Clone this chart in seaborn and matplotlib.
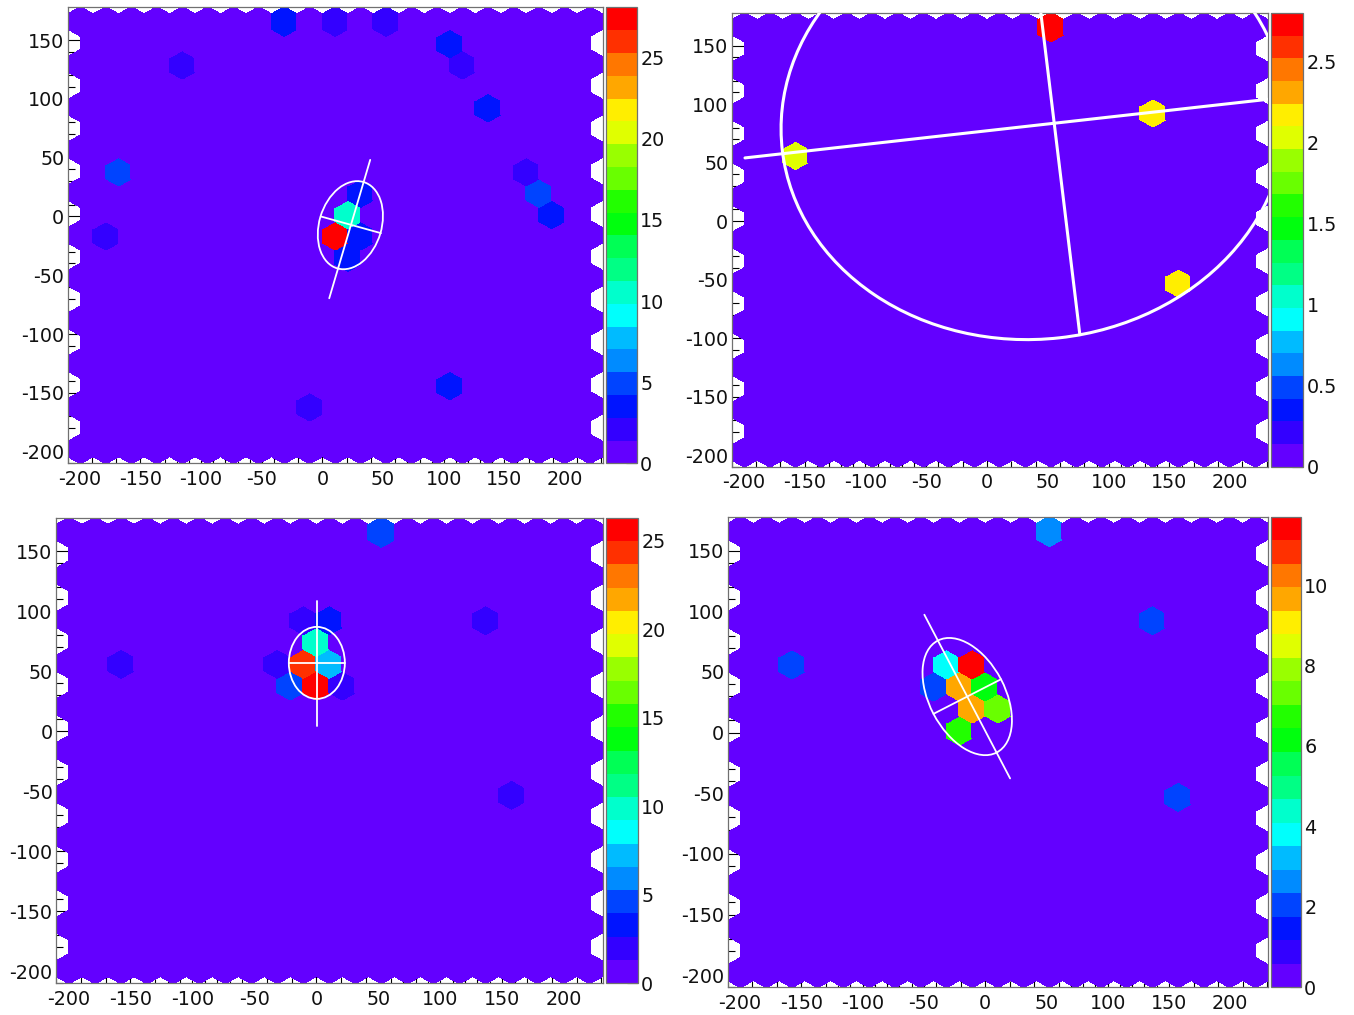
import colorsys
import numpy as np
import matplotlib
matplotlib.use("Agg")
import matplotlib.pyplot as plt
import seaborn as sns
from matplotlib.collections import PolyCollection
from matplotlib.patches import Ellipse
from matplotlib.colors import Normalize, ListedColormap
from matplotlib.cm import ScalarMappable
from matplotlib.ticker import MultipleLocator, FixedLocator, FuncFormatter

sns.set_theme(style="ticks")
plt.rcParams["font.family"] = ["DejaVu Sans"]
plt.rcParams["axes.unicode_minus"] = False

# ---------------- camera layout: 21 x 21 honeycomb of pointy-top pixels ----------------
PIXEL_PITCH = 21.0      # flat-to-flat size (mm)
N_ROWS = 21
N_COLS = 21
GRID_X0 = -210.0
GRID_Y0 = -210.0

# ---------------- event 1 (top left) ----------------
evt1_rows = [20, 20, 20, 19, 18, 18, 16, 13, 13, 12, 11, 10, 3, 2, 12, 11, 10, 10, 9]
evt1_cols = [8, 10, 12, 14, 15, 4, 16, 1, 17, 18, 18, 1, 14, 9, 11, 10, 10, 11, 10]
evt1_vals = [3.5, 2.1, 2.1, 3.5, 2.1, 2.1, 3.5, 4.9, 2.1, 4.9, 3.5, 2.1, 3.5, 2.1,
             3.5, 10.5, 28.1, 3.5, 3.5]
evt1_center = (23.0, -7.4)
evt1_length = 38.3
evt1_width = 25.7
evt1_psi = 74.0
evt1_axis_origin = (23.5, -7.1)
evt1_major_span = (-65.0, 57.5)
evt1_minor_span = (-25.7, 25.7)
evt1_zticks = [0, 5, 10, 15, 20, 25]

# ---------------- event 2 (top right) ----------------
evt2_rows = [20, 16, 14, 8]
evt2_cols = [12, 16, 2, 17]
evt2_vals = [2.8, 2.17, 2.03, 2.17]
evt2_center = (38.3, 84.0)
evt2_length = 208.0
evt2_width = 185.0
evt2_psi = 6.65
evt2_axis_origin = (55.2, 83.7)
evt2_major_span = (-256.0, 320.0)
evt2_minor_span = (-182.0, 200.0)
evt2_zticks = [0, 0.5, 1, 1.5, 2, 2.5]

# ---------------- event 3 (bottom left) ----------------
evt3_rows = [20, 16, 16, 16, 14, 14, 14, 14, 15, 13, 13, 13, 8]
evt3_cols = [12, 9, 10, 16, 2, 8, 9, 10, 9, 8, 9, 10, 17]
evt3_vals = [4.6, 2.0, 3.3, 2.0, 2.0, 2.0, 24.3, 7.2, 9.9, 4.6, 26.3, 2.0, 2.0]
evt3_center = (0.4, 57.0)
evt3_length = 30.0
evt3_width = 22.6
evt3_psi = 90.0
evt3_axis_origin = (0.4, 57.0)
evt3_major_span = (-53.0, 51.5)
evt3_minor_span = (-22.6, 22.6)
evt3_zticks = [0, 5, 10, 15, 20, 25]

# ---------------- event 4 (bottom right) ----------------
evt4_rows = [20, 16, 14, 8, 14, 14, 13, 13, 13, 12, 12, 11]
evt4_cols = [12, 16, 2, 17, 8, 9, 7, 8, 9, 9, 10, 8]
evt4_vals = [2.6, 2.05, 2.05, 2.05, 3.8, 11.7, 2.05, 9.65, 6.14, 9.65, 7.3, 6.7]
evt4_center = (-14.6, 29.7)
evt4_length = 52.0
evt4_width = 31.0
evt4_psi = 117.4
evt4_axis_origin = (-14.6, 29.7)
evt4_major_span = (-76.0, 76.0)
evt4_minor_span = (-31.0, 31.0)
evt4_zticks = [0, 2, 4, 6, 8, 10]

x_ticks = [-200, -150, -100, -50, 0, 50, 100, 150, 200]
y_ticks = [-200, -150, -100, -50, 0, 50, 100, 150]

# ---------------- 20-level violet -> red palette (HLS hue scan) ----------------
N_LEVELS = 20
hues = []
for k in range(N_LEVELS):
    idx = int((k + 0.99) * 50 / N_LEVELS)
    hues.append(0.0 if idx >= 49 else 280.0 - (idx + 1) * 5.6)
palette = sns.color_palette([colorsys.hls_to_rgb(h / 360.0, 0.5, 1.0) for h in hues])
cmap = ListedColormap(list(palette))

# ---------------- geometry helpers ----------------
R_HEX = PIXEL_PITCH / np.sqrt(3.0)
ROW_STEP = 1.5 * R_HEX


def cell_center(row, col):
    x = GRID_X0 + PIXEL_PITCH / 2 + PIXEL_PITCH * col + (PIXEL_PITCH / 2 if row % 2 else 0.0)
    y = GRID_Y0 + R_HEX + ROW_STEP * row
    return x, y


def hexagon(cx, cy):
    ang = np.deg2rad(30 + 60 * np.arange(6))
    return np.column_stack([cx + R_HEX * np.cos(ang), cy + R_HEX * np.sin(ang)])


cells = []
for r in range(N_ROWS):
    for c in range(N_COLS if r % 2 == 0 else N_COLS - 1):
        cells.append((r, c))
cell_index = {rc: i for i, rc in enumerate(cells)}
polys = [hexagon(*cell_center(r, c)) for r, c in cells]

X_MIN = GRID_X0
X_MAX = GRID_X0 + PIXEL_PITCH * N_COLS
Y_MIN = GRID_Y0
Y_MAX = GRID_Y0 + ROW_STEP * (N_ROWS - 1) + 2 * R_HEX

# ---------------- figure ----------------
FIG_W, FIG_H = 1354, 1015
fig = plt.figure(figsize=(FIG_W / 100, FIG_H / 100), dpi=100)
fig.patch.set_facecolor("white")

FS = 13.8
FRAME = "#707070"


def px_axes(x0, x1, y0, y1):
    return fig.add_axes([x0 / FIG_W, 1 - y1 / FIG_H, (x1 - x0) / FIG_W, (y1 - y0) / FIG_H])


def fmt(v, _pos=None):
    return "%g" % v


def draw_event(box, cbox, rows, cols, vals, center, length, width, psi,
               origin, major_span, minor_span, zticks, lw):
    ax = px_axes(*box)
    cax = px_axes(*cbox)

    amp = np.zeros(len(cells))
    for r, c, v in zip(rows, cols, vals):
        amp[cell_index[(r, c)]] = v
    norm = Normalize(vmin=0.0, vmax=max(vals))

    coll = PolyCollection(polys, array=amp, cmap=cmap, norm=norm,
                          edgecolors="face", linewidths=0.6, antialiaseds=False)
    ax.add_collection(coll)
    ax.set_facecolor("white")
    ax.set_xlim(X_MIN, X_MAX)
    ax.set_ylim(Y_MIN, Y_MAX)

    # Hillas ellipse with its major and minor axes
    th = np.deg2rad(psi)
    ax.add_patch(Ellipse(center, 2 * length, 2 * width, angle=psi, fill=False,
                         ec="white", lw=lw, zorder=3))
    ox, oy = origin
    t = np.array(major_span)
    ax.plot(ox + t * np.cos(th), oy + t * np.sin(th), color="white", lw=lw, zorder=3)
    s = np.array(minor_span)
    ax.plot(ox - s * np.sin(th), oy + s * np.cos(th), color="white", lw=lw, zorder=3)

    ax.xaxis.set_major_locator(FixedLocator(x_ticks))
    ax.yaxis.set_major_locator(FixedLocator(y_ticks))
    ax.xaxis.set_minor_locator(MultipleLocator(10))
    ax.yaxis.set_minor_locator(MultipleLocator(10))
    ax.xaxis.set_major_formatter(FuncFormatter(fmt))
    ax.yaxis.set_major_formatter(FuncFormatter(fmt))
    ax.tick_params(which="both", direction="in", color="black", width=0.8,
                   labelsize=FS, labelcolor="#111111")
    ax.tick_params(axis="x", which="major", length=9.5, pad=4.5)
    ax.tick_params(axis="x", which="minor", length=4.5)
    ax.tick_params(axis="y", which="major", length=10, pad=2.5)
    ax.tick_params(axis="y", which="minor", length=5)
    for sp in ax.spines.values():
        sp.set_color(FRAME)
        sp.set_linewidth(0.9)

    cb = fig.colorbar(ScalarMappable(norm=norm, cmap=cmap), cax=cax)
    cb.set_ticks(zticks)
    cb.ax.yaxis.set_major_formatter(FuncFormatter(fmt))
    cb.ax.yaxis.set_ticks_position("right")
    cb.ax.tick_params(direction="in", length=8, width=0.8, color="black",
                      labelsize=FS, pad=2.5, labelcolor="#111111")
    cb.ax.minorticks_off()
    cb.outline.set_edgecolor(FRAME)
    cb.outline.set_linewidth(0.9)
    return ax


draw_event((67.7, 602.7, 7.3, 463.3), (605.7, 636.7, 7.3, 463.3),
           evt1_rows, evt1_cols, evt1_vals, evt1_center, evt1_length, evt1_width,
           evt1_psi, evt1_axis_origin, evt1_major_span, evt1_minor_span, evt1_zticks, 1.3)
draw_event((731.7, 1268.0, 13.0, 466.7), (1270.5, 1303.0, 13.0, 466.7),
           evt2_rows, evt2_cols, evt2_vals, evt2_center, evt2_length, evt2_width,
           evt2_psi, evt2_axis_origin, evt2_major_span, evt2_minor_span, evt2_zticks, 2.2)
draw_event((56.0, 602.7, 517.7, 983.3), (606.0, 637.7, 517.7, 983.3),
           evt3_rows, evt3_cols, evt3_vals, evt3_center, evt3_length, evt3_width,
           evt3_psi, evt3_axis_origin, evt3_major_span, evt3_minor_span, evt3_zticks, 1.3)
draw_event((727.7, 1268.3, 516.7, 987.3), (1270.7, 1300.7, 516.7, 987.3),
           evt4_rows, evt4_cols, evt4_vals, evt4_center, evt4_length, evt4_width,
           evt4_psi, evt4_axis_origin, evt4_major_span, evt4_minor_span, evt4_zticks, 1.3)

fig.savefig("out.png", dpi=100, facecolor="white")
